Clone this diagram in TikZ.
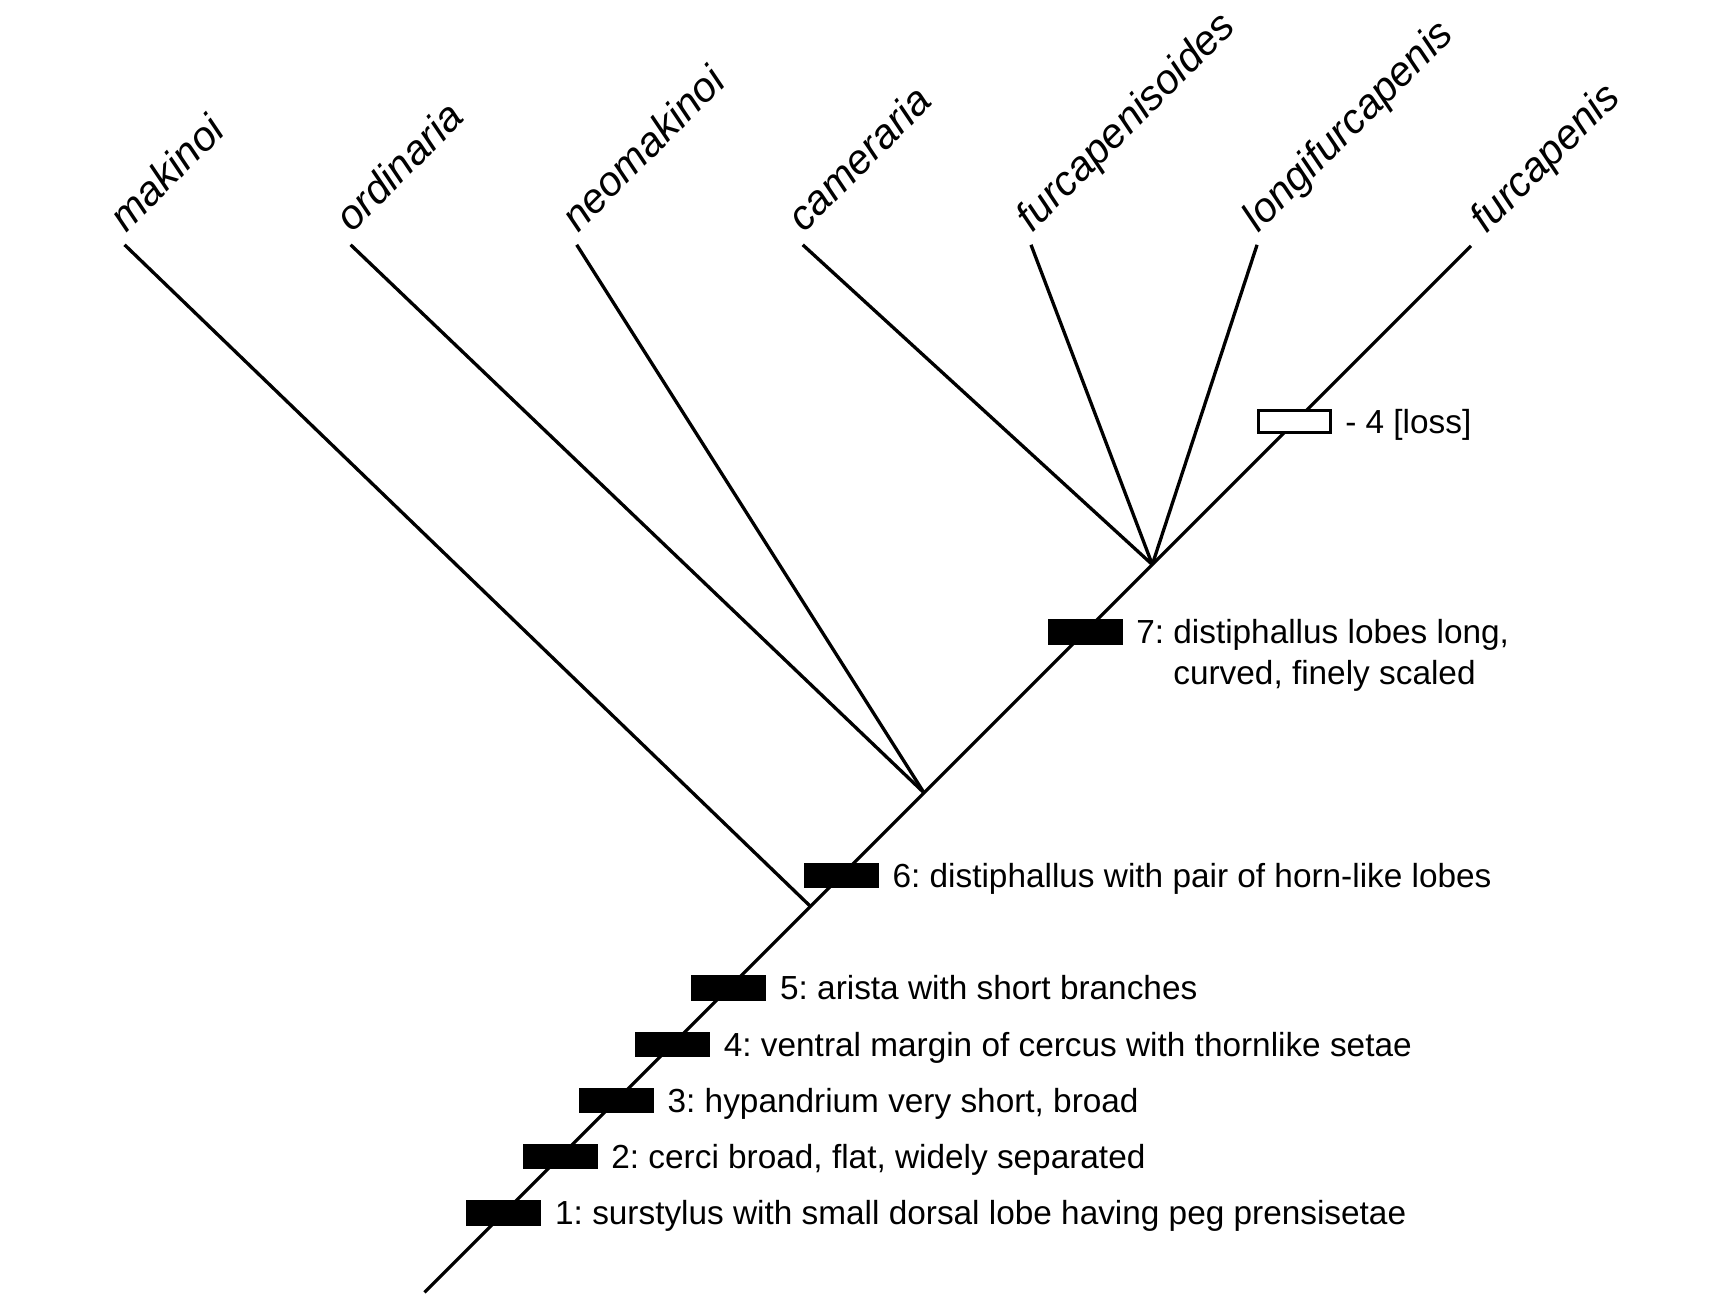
\documentclass[tikz,border=0pt]{standalone}
\usepackage{fontspec}
\setmainfont{Liberation Sans}
\frenchspacing
\begin{document}
\begin{tikzpicture}[x=0.4pt,y=-0.4pt,
    branch/.style={line width=1.2pt},
    taxon/.style={rotate=45, anchor=base west, inner sep=0pt, font=\fontsize{15}{18}\selectfont\itshape},
    charbar/.style={fill=black, minimum width=27.2pt, minimum height=9.2pt, inner sep=0pt},
    lossbar/.style={draw, fill=white, line width=1.2pt, minimum width=26pt, minimum height=8pt, inner sep=0pt},
    trait/.style={anchor=base west, inner sep=0pt, font=\fontsize{12.1}{14.8}\selectfont, align=left}]
  \useasboundingbox (0,0) rectangle (1568,1187);
  % Root and internal nodes
  \coordinate (root) at (385,1172);
  \coordinate (nA) at (735,822);
  \coordinate (nB) at (838,719);
  \coordinate (nC) at (1045,512);
  % Tips
  \coordinate (mak) at (113,222);
  \coordinate (ord) at (318,222);
  \coordinate (neo) at (523,222);
  \coordinate (cam) at (728,222);
  \coordinate (fid) at (935,222);
  \coordinate (lon) at (1140,222);
  \coordinate (fur) at (1334,223);
  % Branches
  \draw[branch] (root) -- (fur);
  \draw[branch] (nA) -- (mak);
  \draw[branch] (nB) -- (ord);
  \draw[branch] (nB) -- (neo);
  \draw[branch] (nC) -- (cam);
  \draw[branch] (nC) -- (fid);
  \draw[branch] (nC) -- (lon);
  % Taxon names
  \node[taxon] (lmak) at ([xshift=0.4pt,yshift=4pt]mak) {makinoi};
  \node[taxon] (lord) at ([xshift=0.4pt,yshift=4pt]ord) {ordinaria};
  \node[taxon] (lneo) at ([xshift=0.4pt,yshift=4pt]neo) {neomakinoi};
  \node[taxon] (lcam) at ([xshift=0.4pt,yshift=4pt]cam) {cameraria};
  \node[taxon] (lfid) at ([xshift=0.4pt,yshift=4pt]fid) {furcapenisoides};
  \node[taxon] (llon) at ([xshift=0.4pt,yshift=4pt]lon) {longifurcapenis};
  \node[taxon] (lfur) at ([xshift=5.6pt,yshift=4pt]fur) {furcapenis};
  % Character bars on the stem
  \node[charbar] (b1) at (457,1100) {};
  \node[charbar] (b2) at (508,1049) {};
  \node[charbar] (b3) at (559,998) {};
  \node[charbar] (b4) at (610,947) {};
  \node[charbar] (b5) at (661,896) {};
  \node[charbar] (b6) at (763,794) {};
  \node[charbar] (b7) at (984,573) {};
  \node[lossbar] (b8) at (1174,382) {};
  % Character states
  \node[trait] (t1) at ([xshift=4.6pt,yshift=-4.3pt]b1.east) {1: surstylus with small dorsal lobe having peg prensisetae};
  \node[trait] (t2) at ([xshift=4.6pt,yshift=-4.3pt]b2.east) {2: cerci broad, flat, widely separated};
  \node[trait] (t3) at ([xshift=4.6pt,yshift=-4.3pt]b3.east) {3: hypandrium very short, broad};
  \node[trait] (t4) at ([xshift=4.6pt,yshift=-4.3pt]b4.east) {4: ventral margin of cercus with thornlike setae};
  \node[trait] (t5) at ([xshift=4.6pt,yshift=-4.3pt]b5.east) {5: arista with short branches};
  \node[trait] (t6) at ([xshift=4.6pt,yshift=-4.3pt]b6.east) {6: distiphallus with pair of horn-like lobes};
  \node[trait] (t7) at ([xshift=4.6pt,yshift=-19.1pt]b7.east) {7: distiphallus lobes long,\\\phantom{7: }curved, finely scaled};
  \node[trait] (t8) at ([xshift=4.6pt,yshift=-4.3pt]b8.east) {- 4 [loss]};
\end{tikzpicture}
\end{document}
